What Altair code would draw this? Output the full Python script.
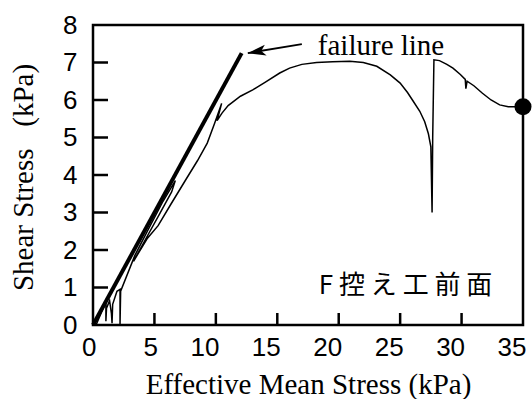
import altair as alt
import pandas as pd

# Effective stress path (p', q) in kPa, in loading order
path_p = [0.25, 0.7, 1.05, 1.05, 1.1, 1.35, 1.5, 1.55, 1.6, 1.95, 2.2, 2.2, 2.25,
          3.4, 4.5, 5.7, 6.7, 6.4, 5.4, 4.3, 3.3, 4.4, 5.3, 6.3, 7.6, 8.5, 9.3,
          9.9, 10.47, 10.1, 10.5, 11.0, 12.0, 13.0, 14.0, 15.2, 16.0, 17.0, 18.2,
          19.5, 20.9, 22.0, 23.1, 24.2, 25.0, 25.6, 26.0, 26.6, 27.0, 27.3, 27.5,
          27.6, 27.65, 27.75, 28.2, 28.8, 29.3, 29.9, 30.3, 30.35, 30.45, 31.0,
          31.7, 32.4, 33.1, 33.8, 35.0]
path_q = [0.0, 0.35, 0.6, 0.1, 0.45, 0.65, 0.3, 0.05, 0.55, 0.9, 0.95, 0.0, 0.9,
          1.85, 2.55, 3.3, 3.85, 3.55, 2.95, 2.3, 1.7, 2.3, 2.65, 3.2, 3.9, 4.38, 4.85,
          5.38, 5.91, 5.45, 5.65, 5.85, 6.1, 6.27, 6.47, 6.72, 6.85, 6.95, 7.0,
          7.02, 7.03, 7.0, 6.9, 6.67, 6.45, 6.2, 6.0, 5.7, 5.42, 5.1, 4.75,
          3.0, 5.0, 7.07, 7.05, 6.95, 6.85, 6.68, 6.55, 6.3, 6.5, 6.38,
          6.18, 6.0, 5.87, 5.82, 5.82]

# Failure line end points
fail_p = [0.0, 12.1]
fail_q = [0.0, 7.25]

# Final state
end_p = [35.0]
end_q = [5.82]

# Annotation arrow (tail, tip) and labels
arrow_p = [17.0, 12.6]
arrow_q = [7.49, 7.25]
fail_label = "failure line"
fail_label_pos = (18.3, 7.2)
panel_label = "F 控 え 工 前 面"
panel_label_pos = (32.5, 1.04)

x_ticks = [0, 5, 10, 15, 20, 25, 30, 35]
y_ticks = [0, 1, 2, 3, 4, 5, 6, 7, 8]
x_inner_ticks = [5, 10, 15, 20, 25, 30]
y_inner_ticks = [1, 2, 3, 4, 5, 6, 7]

path_df = pd.DataFrame({"p": path_p, "q": path_q, "i": range(len(path_p))})
fail_df = pd.DataFrame({"p": fail_p, "q": fail_q})
end_df = pd.DataFrame({"p": end_p, "q": end_q})
arrow_df = pd.DataFrame({"p": arrow_p, "q": arrow_q})
tip_df = pd.DataFrame({"p": [arrow_p[1]], "q": [arrow_q[1]]})
flab_df = pd.DataFrame({"p": [fail_label_pos[0]], "q": [fail_label_pos[1]], "t": [fail_label]})
plab_df = pd.DataFrame({"p": [panel_label_pos[0]], "q": [panel_label_pos[1]], "t": [panel_label]})
xt_df = pd.DataFrame({"p": x_inner_ticks})
yt_df = pd.DataFrame({"q": y_inner_ticks})

xscale = alt.Scale(domain=[0, 35], nice=False, zero=False)
yscale = alt.Scale(domain=[0, 8], nice=False, zero=False)

x_axis = alt.Axis(values=x_ticks, labelPadding=9, titleY=68,
                  labelFlush=False, labelOverlap=False,
                  labelAlign="right", labelOffset=3,
                  titleBaseline="alphabetic")
y_axis = alt.Axis(values=y_ticks, labelPadding=16,
                  titleX=-61, titleY=152,
                  labelFlush=False, labelOverlap=False,
                  titleAngle=-90, titleAlign="center",
                  titleBaseline="alphabetic")
x_title = "Effective Mean Stress (kPa)"
y_title = "Shear Stress\u00a0\u00a0 (kPa)"

# every layer shares the same scale and axis definition
px = alt.X("p:Q", scale=xscale, axis=x_axis, title=x_title)
qy = alt.Y("q:Q", scale=yscale, axis=y_axis, title=y_title)

path = alt.Chart(path_df).mark_line(color="black", strokeWidth=1.5).encode(
    x=px, y=qy, order="i:Q")

failure = alt.Chart(fail_df).mark_line(color="black", strokeWidth=4).encode(x=px, y=qy)

end_pt = alt.Chart(end_df).mark_point(filled=True, color="black", size=290, opacity=1).encode(
    x=px, y=qy)

shaft = alt.Chart(arrow_df).mark_line(color="black", strokeWidth=2).encode(x=px, y=qy)

head = alt.Chart(tip_df).mark_point(
    shape="M0,0 L2,-0.6 L1.5,0 L2,0.6 Z", filled=True, color="black",
    size=330, angle=350.5, opacity=1).encode(x=px, y=qy)

flab = alt.Chart(flab_df).mark_text(
    font="Liberation Serif", fontSize=29, align="left", baseline="alphabetic",
    color="black").encode(x=px, y=qy, text="t:N")

plab = alt.Chart(plab_df).mark_text(
    font="Noto Sans CJK JP", fontSize=26, align="right", baseline="middle",
    color="black").encode(x=px, y=qy, text="t:N")

xt = alt.Chart(xt_df).mark_rule(color="black", strokeWidth=2.5).encode(
    x=px, y=alt.value(288), y2=alt.value(300))

yt = alt.Chart(yt_df).mark_rule(color="black", strokeWidth=2.5).encode(
    y=qy, x=alt.value(0), x2=alt.value(15))

chart = alt.layer(path, xt, yt, failure, shaft, head, end_pt, flab, plab).properties(
    width=430, height=300,
    autosize=alt.AutoSizeParams(type="none"),
    padding={"left": 93, "top": 25, "right": 9, "bottom": 74},
    background="white",
).configure_view(
    stroke="black", strokeWidth=2.5
).configure_axis(
    domain=False, ticks=False, grid=False,
    labelFont="Liberation Sans", labelFontSize=26, labelColor="black",
    titleFont="Liberation Serif", titleFontSize=29, titleFontWeight="normal",
    titleColor="black",
)

chart.save("out.html", embed_options={"renderer": "svg", "actions": False})
